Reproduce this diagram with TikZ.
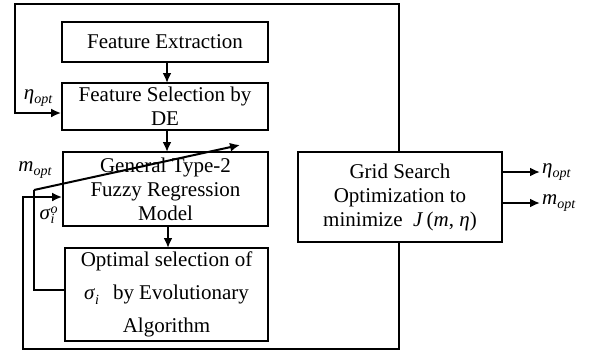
\documentclass[tikz,border=0pt]{standalone}
\usepackage{amsmath}
\usepackage{fontspec}
\setmainfont{Liberation Serif}
\usetikzlibrary{arrows.meta}
\newcommand{\subit}[1]{\raisebox{-4.5bp}{\fontsize{14bp}{14bp}\selectfont\itshape #1}}
\newcommand{\optsub}[1]{\textit{#1}\subit{opt}}
\begin{document}
\begin{tikzpicture}[x=1bp,y=-1bp,
  font=\fontsize{21bp}{24bp}\selectfont,
  box/.style={draw,line width=1.8bp,align=center,inner sep=0pt},
  flow/.style={line width=2.5bp,-{Latex[length=10bp,width=9bp]}},
  thinline/.style={line width=1.2bp},
  lbl/.style={inner sep=0pt}]
\useasboundingbox (0,0) rectangle (603,356);

\node[box,minimum width=206bp,minimum height=40bp] (fe) at (165,42) {Feature Extraction};
\node[box,minimum width=206bp,minimum height=47bp] (fs) at (165,106.5) {Feature Selection by\\DE};
\node[box,minimum width=205bp,minimum height=74bp] (gt) at (165.5,189) {General Type-2\\Fuzzy Regression\\Model};
\node[box,minimum width=203bp,minimum height=93bp] (op) at (166.5,294.5) {Optimal selection of\\[9bp]\textit{σ}\subit{i}\hspace{14bp}by Evolutionary\\[9bp]Algorithm};
\node[box,minimum width=204bp,minimum height=90bp] (gs) at (400,197) {Grid Search\\Optimization to\\minimize\ \ \textit{J}\,(\textit{m}, \textit{η})};

% inter-box arrows
\draw[flow] (167,62) -- (167,83);
\draw[flow] (167,130) -- (167,152);
\draw[flow] (168,226) -- (168,248);

% top loop
\coordinate (t1) at (399,4);
\coordinate (t2) at (15,4);
\coordinate (t3) at (15,113);
\draw[flow] (gs.north -| t1) -- (t1) -- (t2) -- (t3) -- (t3 -| fs.west);

% bottom loop
\coordinate (b1) at (399,349);
\coordinate (b2) at (23,349);
\coordinate (b3) at (23,197);
\draw[flow] (gs.south -| b1) -- (b1) -- (b2) -- (b3) -- (b3 -| gt.west);

% sigma feedback
\coordinate (s1) at (34,290);
\coordinate (s2) at (34,190);
\coordinate (s3) at (240,145);
\draw[thinline] (s1 -| op.west) -- (s1) -- (s2);
\draw[line width=2bp,-{Latex[length=10bp,width=9bp]}] (s2) -- (s3);

% outputs
\coordinate (o1) at (540,172);
\coordinate (o2) at (540,203);
\draw[flow] (o1 -| gs.east) -- (o1);
\draw[flow] (o2 -| gs.east) -- (o2);
\node[lbl,anchor=west] (lo1) at (542,172) {\optsub{η}};
\node[lbl,anchor=west] (lo2) at (542,203) {\optsub{m}};

% left labels
\node[lbl] (leta) at (38,98) {\optsub{η}};
\node[lbl] (lm) at (35,170) {\optsub{m}};
\node[lbl] (lsig) at (47,215) {\textit{σ}\rlap{\raisebox{6bp}{\fontsize{14bp}{14bp}\selectfont\itshape o}}\subit{i}};
\end{tikzpicture}
\end{document}
